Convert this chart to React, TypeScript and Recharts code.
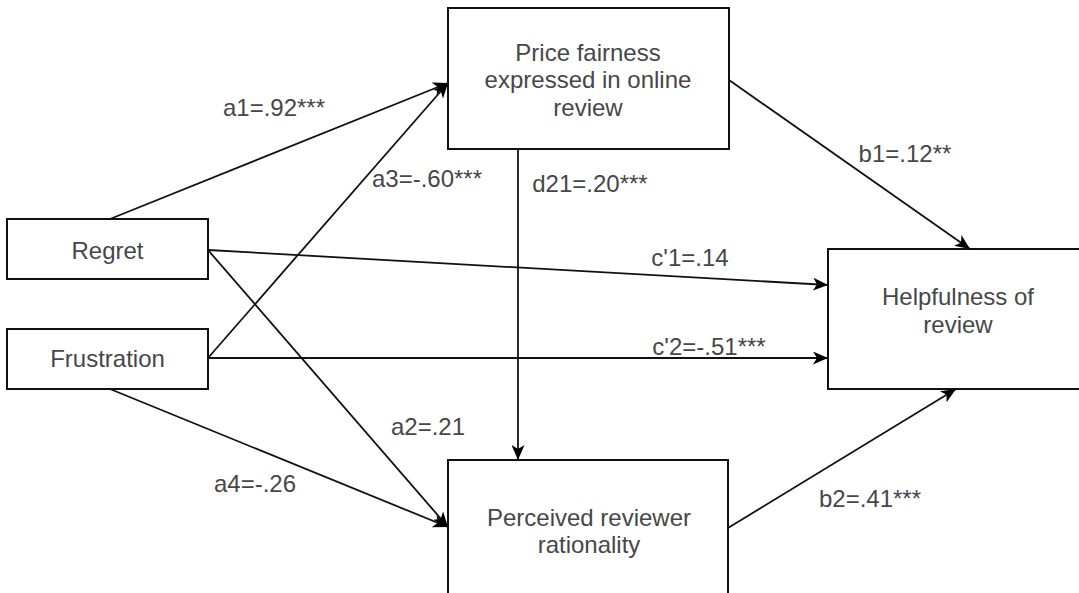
import React from 'react';
import { ComposedChart, XAxis, YAxis, Line, Scatter, ReferenceArea } from 'recharts';

// boxes of the path model, in diagram units (1 unit = 1px on a 1079x593 canvas)
const boxes = [
  { id: 'price', x1: 448, x2: 729, y1: 8, y2: 149 },
  { id: 'regret', x1: 7, x2: 208, y1: 219, y2: 279 },
  { id: 'frustration', x1: 7, x2: 208, y1: 329, y2: 389 },
  { id: 'helpful', x1: 828, x2: 1090, y1: 249, y2: 389 },
  { id: 'perceived', x1: 448, x2: 728, y1: 460, y2: 602 },
];

const boxTexts = [
  { x: 588, y: 79.5, lines: ['Price fairness', 'expressed in online', 'review'] },
  { x: 107.5, y: 250, lines: ['Regret'] },
  { x: 107.5, y: 358, lines: ['Frustration'] },
  { x: 958, y: 310.5, lines: ['Helpfulness of', 'review'] },
  { x: 589, y: 531, lines: ['Perceived reviewer', 'rationality'] },
];

const paths = [
  { id: 'a1', from: { x: 110, y: 219 }, to: { x: 448, y: 83 } },
  { id: 'a3', from: { x: 208, y: 358 }, to: { x: 448, y: 83 } },
  { id: 'c1', from: { x: 208, y: 250 }, to: { x: 828, y: 285 } },
  { id: 'a2', from: { x: 208, y: 250 }, to: { x: 448, y: 527 } },
  { id: 'c2', from: { x: 208, y: 358 }, to: { x: 828, y: 358 } },
  { id: 'a4', from: { x: 110, y: 389 }, to: { x: 448, y: 527 } },
  { id: 'd21', from: { x: 518, y: 149 }, to: { x: 518, y: 460 } },
  { id: 'b1', from: { x: 729, y: 80 }, to: { x: 970, y: 249 } },
  { id: 'b2', from: { x: 728, y: 528 }, to: { x: 956, y: 389 } },
];

const coefLabels = [
  { x: 274, y: 107, text: 'a1=.92***' },
  { x: 427, y: 178, text: 'a3=-.60***' },
  { x: 590, y: 183, text: 'd21=.20***' },
  { x: 905, y: 153, text: 'b1=.12**' },
  { x: 690, y: 257, text: "c'1=.14" },
  { x: 709, y: 346, text: "c'2=-.51***" },
  { x: 428, y: 426, text: 'a2=.21' },
  { x: 255, y: 483, text: 'a4=-.26' },
  { x: 870, y: 498, text: 'b2=.41***' },
];

const FONT = '"Liberation Sans", Arial, Helvetica, sans-serif';
const TEXT_COLOR = '#474747';
const LINE_H = 27.5;

const BoxText = (props: any) => {
  const { cx, cy, payload } = props;
  const n = payload.lines.length;
  return (
    <text x={cx} y={cy} textAnchor="middle" fontFamily={FONT} fontSize={24} fill={TEXT_COLOR}>
      {payload.lines.map((l: string, i: number) => (
        <tspan key={l} x={cx} y={cy + (i - (n - 1) / 2) * LINE_H} dominantBaseline="central">
          {l}
        </tspan>
      ))}
    </text>
  );
};

const CoefText = (props: any) => (
  <text
    x={props.cx}
    y={props.cy}
    textAnchor="middle"
    dominantBaseline="central"
    fontFamily={FONT}
    fontSize={24}
    fill={TEXT_COLOR}
  >
    {props.payload.text}
  </text>
);

export default function App() {
  return (
    <div style={{ position: 'absolute', left: 0, top: 0, background: '#fff' }}>
      <svg width={0} height={0} style={{ position: 'absolute' }}>
        <defs>
          <marker
            id="arrowHead"
            markerUnits="userSpaceOnUse"
            markerWidth={16}
            markerHeight={13}
            refX={15}
            refY={6.5}
            orient="auto"
          >
            <path d="M0,0 L15,6.5 L0,13 L4,6.5 Z" fill="#000" />
          </marker>
        </defs>
      </svg>
      <ComposedChart width={1079} height={593} margin={{ top: 0, right: 0, bottom: 0, left: 0 }}>
        <XAxis type="number" dataKey="x" domain={[0, 1079]} allowDataOverflow hide />
        <YAxis type="number" dataKey="y" domain={[0, 593]} reversed allowDataOverflow hide />
        {boxes.map((b) => (
          <ReferenceArea
            key={b.id}
            x1={b.x1}
            x2={b.x2}
            y1={b.y1}
            y2={b.y2}
            ifOverflow="hidden"
            fill="#fff"
            fillOpacity={1}
            stroke="#111"
            strokeWidth={2}
          />
        ))}
        {paths.map((p) => (
          <Line
            key={p.id}
            data={[p.from, p.to]}
            dataKey="y"
            type="linear"
            stroke="#111"
            strokeWidth={1.8}
            dot={false}
            activeDot={false}
            markerEnd="url(#arrowHead)"
            isAnimationActive={false}
          />
        ))}
        <Scatter data={boxTexts} shape={BoxText} isAnimationActive={false} />
        <Scatter data={coefLabels} shape={CoefText} isAnimationActive={false} />
      </ComposedChart>
    </div>
  );
}
